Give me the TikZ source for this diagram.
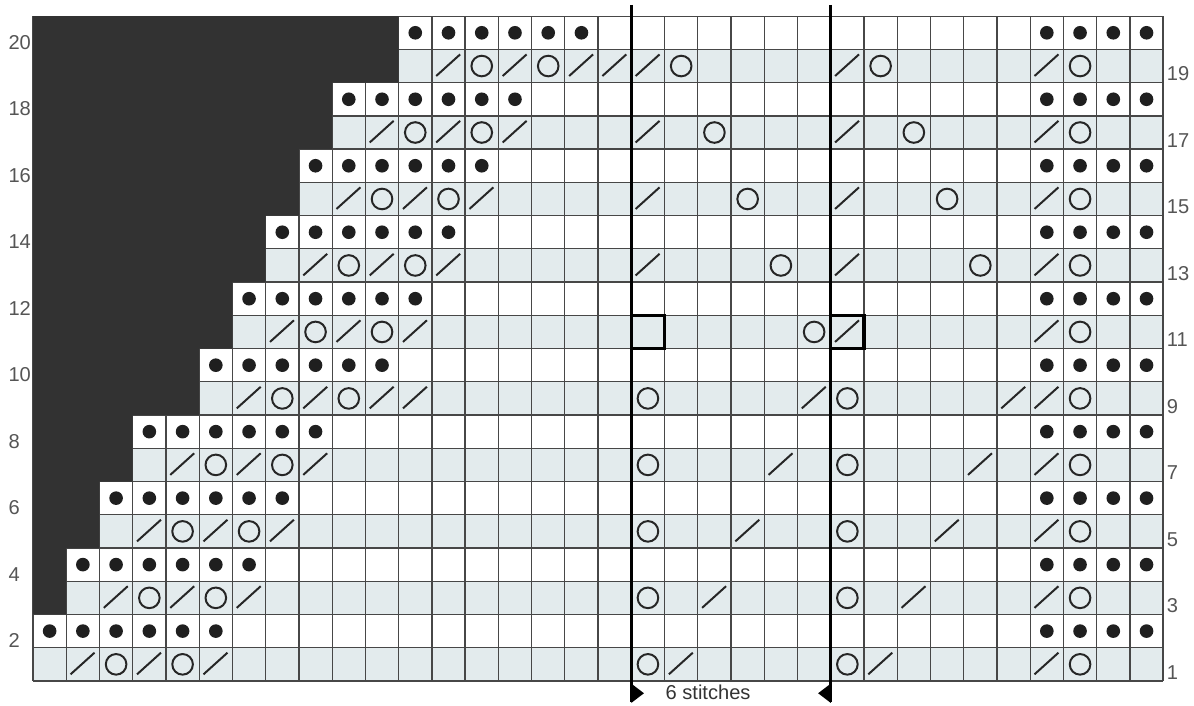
\documentclass[tikz,border=0pt]{standalone}
\usepackage{fontspec}
\setmainfont{Liberation Sans}
\definecolor{oddrow}{HTML}{E3EBED}
\definecolor{nostitch}{HTML}{323232}
\definecolor{labelgrey}{HTML}{555555}
\begin{document}
\begin{tikzpicture}[x=0.5cm, y=0.5cm,
            gridline/.style={draw=black!72, line width=0.55pt},
            purl/.style={fill=black!88},
            k2tog/.style={draw=black!85, line width=0.85pt},
            yarnover/.style={draw=black!85, line width=0.85pt},
            repline/.style={line width=1.3pt, black},
            rowno/.style={font=\fontsize{8.6}{10}\selectfont, text=labelgrey, inner sep=0pt}]
            \useasboundingbox (-0.993,-0.752) rectangle (34.928,20.487);
            \foreach \r in {0,2,...,18}
                \fill[oddrow] (0,\r) rectangle (34,\r+1);
            \draw[gridline, step=0.5cm] (0,0) grid (34,20);
            \fill[nostitch] (0,2) -- (1,2) -- (1,4) -- (2,4) -- (2,6) -- (3,6) -- (3,8) -- (5,8) -- (5,10)
                -- (6,10) -- (6,12) -- (7,12) -- (7,14) -- (8,14) -- (8,16) -- (9,16) -- (9,18)
                -- (11,18) -- (11,20) -- (0,20) -- cycle;
            \foreach \r/\s in {2/1,4/2,6/3,8/4,10/6,12/7,14/8,16/9,18/10,20/12} {
                \foreach \i in {0,...,5}
                    \fill[purl] (\s+\i-0.5,\r-0.5) circle (0.205);
                \foreach \c in {31,...,34}
                    \fill[purl] (\c-0.5,\r-0.5) circle (0.205);
                \foreach \i in {1,3,5}
                    \draw[k2tog] (\s+\i-0.87,\r-1.8) -- (\s+\i-0.15,\r-1.15);
                \foreach \i in {2,4}
                    \draw[yarnover] (\s+\i-0.5,\r-1.5) circle (0.31);
                \draw[k2tog] (30.13,\r-1.8) -- (30.85,\r-1.15);
                \draw[yarnover] (31.5,\r-1.5) circle (0.31);
            }
            \foreach \c/\r in {12/9,18/19,19/19,19/17,19/15,19/13}
                \draw[k2tog] (\c-0.87,\r-0.8) -- (\c-0.15,\r-0.15);
            \foreach \r/\c in {19/20,17/21,15/22,13/23} {
                \draw[yarnover] (\c-0.5,\r-0.5) circle (0.31);
                \draw[yarnover] (\c+5.5,\r-0.5) circle (0.31);
                \draw[k2tog] (24.13,\r-0.8) -- (24.85,\r-0.15);
            }
            \draw[yarnover] (23.5,10.5) circle (0.31);
            \draw[k2tog] (24.13,10.2) -- (24.85,10.85);
            \foreach \r/\c in {1/20,3/21,5/22,7/23,9/24} {
                \draw[yarnover] (18.5,\r-0.5) circle (0.31);
                \draw[yarnover] (24.5,\r-0.5) circle (0.31);
                \draw[k2tog] (\c-0.87,\r-0.8) -- (\c-0.15,\r-0.15);
                \draw[k2tog] (\c+5.13,\r-0.8) -- (\c+5.85,\r-0.15);
            }
            \coordinate (a1) at (18,20.34);
            \coordinate (a2) at (18,-0.63);
            \coordinate (b1) at (24,20.34);
            \coordinate (b2) at (24,-0.63);
            \draw[repline] (a1) -- (a2);
            \draw[repline] (b1) -- (b2);
            \draw[repline] (18,10) rectangle (19,11);
            \draw[repline] (24,10) rectangle (25,11);
            \fill (18,-0.08) -- (18.38,-0.37) -- (18,-0.66) -- cycle;
            \fill (24,-0.08) -- (23.62,-0.37) -- (24,-0.66) -- cycle;
            \node[rowno, text=black!80] (rep) at (20.31,-0.33) {6 stitches};
            \foreach \r in {2,4,...,20}
                \node[rowno, anchor=west] (l\r) at (-0.75,\r-0.79) {\r};
            \foreach \r in {1,3,...,19}
                \node[rowno, anchor=west] (r\r) at (34.1,\r-0.74) {\r};
        \end{tikzpicture}
\end{document}
